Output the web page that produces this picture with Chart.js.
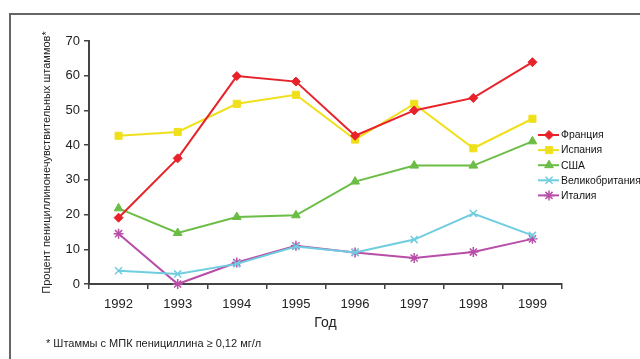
<!DOCTYPE html>
<html lang="ru">
<head>
<meta charset="utf-8">
<title>Пенициллинонечувствительные штаммы, 1992–1999</title>
<script src="https://cdn.jsdelivr.net/npm/chart.js@4.4.1/dist/chart.umd.min.js"></script>
<style>
  html, body { margin: 0; padding: 0; background: #fff; }
  #wrap { position: relative; width: 640px; height: 359px; overflow: hidden; }
  #frame { position: absolute; left: 9px; top: 13px; width: 640px; height: 360px;
           border-left: 2px solid #666; border-top: 2px solid #666; box-sizing: border-box; }
  #chart { position: absolute; left: 0; top: 0; }
  #note { position: absolute; left: 46px; top: 337px; font: 11px "Liberation Sans", Arial, sans-serif; color: #222; }
</style>
</head>
<body>
<div id="wrap">
  <div id="frame"></div>
  <canvas id="chart" width="640" height="359"></canvas>
  <div id="note">* Штаммы с МПК пенициллина ≥ 0,12 мг/л</div>
</div>
<script>
// Годы наблюдения
const years = ['1992', '1993', '1994', '1995', '1996', '1997', '1998', '1999'];

// Доля пенициллинонечувствительных штаммов, %
const france  = [19.1, 36.2, 59.9, 58.3, 42.7, 50.0, 53.6, 63.9];
const spain   = [42.7, 43.8, 51.9, 54.5, 41.6, 51.9, 39.1, 47.6];
const usa     = [21.8, 14.7, 19.3, 19.8, 29.5, 34.1, 34.1, 41.1];
const uk      = [3.8, 2.9, 5.8, 10.8, 9.1, 12.8, 20.3, 14.0];
const italy   = [14.5, 0.0, 6.2, 11.0, 9.1, 7.5, 9.2, 13.0];

const countryNames = ['Франция', 'Испания', 'США', 'Великобритания', 'Италия'];
const yTicks = [0, 10, 20, 30, 40, 50, 60, 70];

const FONT = '"Liberation Sans", Arial, sans-serif';

function series(label, data, color, style, radius, bw) {
  return {
    label, data,
    borderColor: color,
    backgroundColor: color,
    borderWidth: 2,
    pointStyle: style,
    pointRadius: radius,
    pointHoverRadius: radius,
    pointBorderWidth: bw,
    pointBackgroundColor: color,
    pointBorderColor: color,
    tension: 0,
    clip: false
  };
}

// Легенда справа от области построения
const sideLegend = {
  id: 'sideLegend',
  afterDraw(chart) {
    const ctx = chart.ctx;
    const x0 = chart.chartArea.right - 24;
    chart.data.datasets.forEach((ds, i) => {
      const y = 135 + i * 15.1;
      ctx.save();
      ctx.strokeStyle = ds.borderColor;
      ctx.lineWidth = 2;
      ctx.beginPath();
      ctx.moveTo(x0, y);
      ctx.lineTo(x0 + 21, y);
      ctx.stroke();
      ctx.fillStyle = ds.pointBackgroundColor;
      ctx.strokeStyle = ds.pointBorderColor;
      ctx.lineWidth = ds.pointBorderWidth;
      Chart.helpers.drawPoint(ctx, {
        pointStyle: ds.pointStyle, radius: ds.pointRadius,
        borderWidth: ds.pointBorderWidth, rotation: 0
      }, x0 + 11, y);
      ctx.fillStyle = '#111';
      ctx.font = '10.4px ' + FONT;
      ctx.textBaseline = 'middle';
      ctx.textAlign = 'left';
      ctx.fillText(ds.label, x0 + 23, y + 0.5);
      ctx.restore();
    });
  }
};

new Chart(document.getElementById('chart'), {
  type: 'line',
  data: {
    labels: years,
    datasets: [
      series(countryNames[0], france, '#e8222a', 'rectRot', 4.5, 1),
      series(countryNames[1], spain,  '#f0e01c', 'rect',    5,   1),
      series(countryNames[2], usa,    '#6bbd45', 'triangle', 5,  1),
      series(countryNames[3], uk,     '#6fcde0', 'crossRot', 5,  1.5),
      series(countryNames[4], italy,  '#b84ea8', 'star',    5,   1.5)
    ]
  },
  options: {
    responsive: false,
    animation: false,
    events: [],
    layout: { padding: { top: 41, right: 78, bottom: 0, left: 0 } },
    plugins: { legend: { display: false }, tooltip: { enabled: false } },
    scales: {
      x: {
        type: 'category',
        offset: true,
        afterFit(scale) { scale.height = 75; },
        grid: { offset: true, drawOnChartArea: false, drawTicks: true, tickLength: 5, color: '#444', lineWidth: 1.5 },
        border: { display: true, color: '#444', width: 2 },
        ticks: { color: '#222', font: { family: FONT, size: 13 }, padding: 8, maxRotation: 0 },
        title: { display: true, text: 'Год', color: '#222', font: { family: FONT, size: 14 }, padding: { top: 0, bottom: 27 } }
      },
      y: {
        min: 0, max: 70,
        afterFit(scale) { scale.width = 89; },
        afterBuildTicks(scale) { scale.ticks = yTicks.map(v => ({ value: v })); },
        grid: { drawOnChartArea: false, drawTicks: true, tickLength: 5, color: '#444', lineWidth: 1.5 },
        border: { display: true, color: '#444', width: 2 },
        ticks: { color: '#222', font: { family: FONT, size: 13 }, padding: 4 },
        title: { display: true, text: 'Процент пенициллинонечувствительных штаммов*', color: '#222',
                 font: { family: FONT, size: 11 }, padding: { top: 40, bottom: 0 } }
      }
    }
  },
  plugins: [sideLegend]
});
</script>
</body>
</html>
